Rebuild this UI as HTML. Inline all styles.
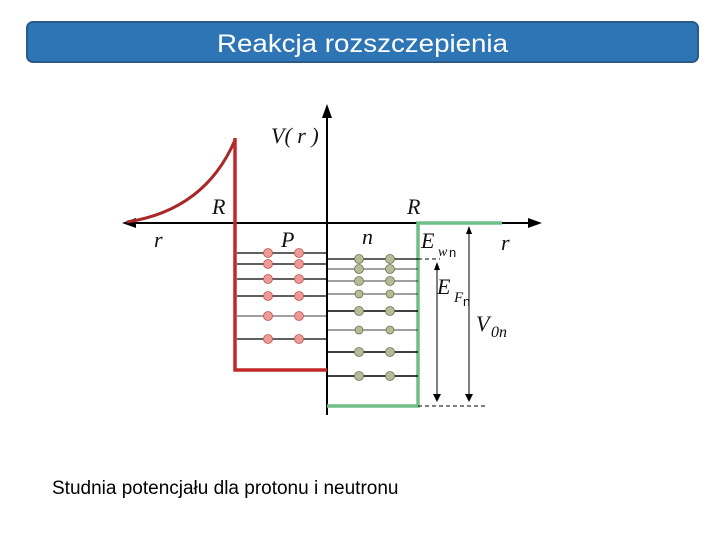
<!DOCTYPE html>
<html><head><meta charset="utf-8"><style>
html,body{margin:0;padding:0;background:#fff;width:720px;height:540px;overflow:hidden}
</style></head><body>
<svg width="720" height="540" viewBox="0 0 720 540" xmlns="http://www.w3.org/2000/svg">
<rect x="27" y="22" width="671" height="40" rx="6" fill="#2e75b6" stroke="#2a5a88" stroke-width="2"/>
<text x="217" y="52" textLength="291" lengthAdjust="spacingAndGlyphs" font-family="Liberation Sans, sans-serif" font-size="25" fill="#fff">Reakcja rozszczepienia</text>

<g font-family="Liberation Serif, serif" font-style="italic" fill="#111">
<line x1="327" y1="112" x2="327" y2="415" stroke="#000" stroke-width="2"/>
<polygon points="327,104 322,118 332,118" fill="#000"/>
<line x1="130" y1="223" x2="533" y2="223" stroke="#000" stroke-width="2"/>
<polygon points="542,223 528,218 528,228" fill="#000"/>
<polygon points="122,223 136,218 136,228" fill="#000"/>
<path d="M127,222 Q205,210 235,140" fill="none" stroke="#a82828" stroke-width="3"/>
<polyline points="235,138 235,370 327,370" fill="none" stroke="#c0282a" stroke-width="3.5"/>
<polyline points="327,406 418,406 418,223 502,223" fill="none" stroke="#6fbf85" stroke-width="3.5"/>
<g stroke="#000" stroke-width="1.2">
<line x1="237" y1="253" x2="327" y2="253"/><line x1="237" y1="264" x2="327" y2="264"/>
<line x1="237" y1="279" x2="327" y2="279"/><line x1="237" y1="296" x2="327" y2="296"/>
<line x1="237" y1="316" x2="327" y2="316" stroke-width="0.8"/><line x1="237" y1="339" x2="327" y2="339"/>
<line x1="327" y1="259" x2="418" y2="259"/><line x1="327" y1="269" x2="418" y2="269" stroke-width="0.8"/>
<line x1="327" y1="281" x2="418" y2="281" stroke-width="0.8"/><line x1="327" y1="294" x2="418" y2="294" stroke-width="0.8"/>
<line x1="327" y1="311" x2="418" y2="311" stroke-width="1.5"/><line x1="327" y1="330" x2="418" y2="330" stroke-width="0.8"/>
<line x1="327" y1="352" x2="418" y2="352" stroke-width="1.5"/><line x1="327" y1="376" x2="418" y2="376" stroke-width="1.5"/>
</g>
<g fill="#ec9a95" stroke="#c0554f" stroke-width="0.8">
<circle cx="268" cy="253" r="4.5"/><circle cx="299" cy="253" r="4.5"/>
<circle cx="268" cy="264" r="4.5"/><circle cx="299" cy="264" r="4.5"/>
<circle cx="268" cy="279" r="4.5"/><circle cx="299" cy="279" r="4.5"/>
<circle cx="268" cy="296" r="4.5"/><circle cx="299" cy="296" r="4.5"/>
<circle cx="268" cy="316" r="4.5"/><circle cx="299" cy="316" r="4.5"/>
<circle cx="268" cy="339" r="4.5"/><circle cx="299" cy="339" r="4.5"/>
</g>
<g fill="#b8bb95" stroke="#6d7050" stroke-width="0.8">
<circle cx="359" cy="259" r="4.5"/><circle cx="390" cy="259" r="4.5"/>
<circle cx="359" cy="269" r="4.5"/><circle cx="390" cy="269" r="4.5"/>
<circle cx="359" cy="281" r="4.5"/><circle cx="390" cy="281" r="4.5"/>
<circle cx="359" cy="294" r="4"/><circle cx="390" cy="294" r="4"/>
<circle cx="359" cy="311" r="4.5"/><circle cx="390" cy="311" r="4.5"/>
<circle cx="359" cy="330" r="4"/><circle cx="390" cy="330" r="4"/>
<circle cx="359" cy="352" r="4.5"/><circle cx="390" cy="352" r="4.5"/>
<circle cx="359" cy="376" r="4.5"/><circle cx="390" cy="376" r="4.5"/>
</g>
<line x1="418" y1="259" x2="440" y2="259" stroke="#000" stroke-dasharray="4,3"/>
<line x1="418" y1="406" x2="486" y2="406" stroke="#000" stroke-dasharray="4,3"/>
<line x1="437" y1="268" x2="437" y2="396" stroke="#000"/>
<polygon points="437,262 434,270 440,270" fill="#000"/><polygon points="437,402 433,394 441,394" fill="#000"/>
<line x1="469" y1="232" x2="469" y2="396" stroke="#000"/>
<polygon points="469,226 466,234 472,234" fill="#000"/><polygon points="469,402 465,394 473,394" fill="#000"/>
<text x="271" y="143" font-size="22">V( r )</text>
<text x="212" y="214" font-size="22">R</text>
<text x="407" y="214" font-size="22">R</text>
<text x="154" y="247" font-size="22">r</text>
<text x="281" y="247" font-size="22">P</text>
<text x="362" y="244" font-size="22">n</text>
<text x="421" y="248" font-size="22">E</text><text x="438" y="256" font-size="14">w</text><text x="449" y="257" font-size="13" font-style="normal" font-family="Liberation Sans, sans-serif">n</text>
<text x="501" y="250" font-size="22">r</text>
<text x="437" y="294" font-size="22">E</text><text x="454" y="302" font-size="15">F</text><text x="463" y="306" font-size="13" font-style="normal" font-family="Liberation Sans, sans-serif">n</text>
<text x="476" y="331" font-size="22">V</text><text x="491" y="337" font-size="16">0n</text>
</g>
<text x="52" y="494" font-family="Liberation Sans, sans-serif" font-size="19" fill="#000">Studnia potencjału dla protonu i neutronu</text>
</svg>
</body></html>
